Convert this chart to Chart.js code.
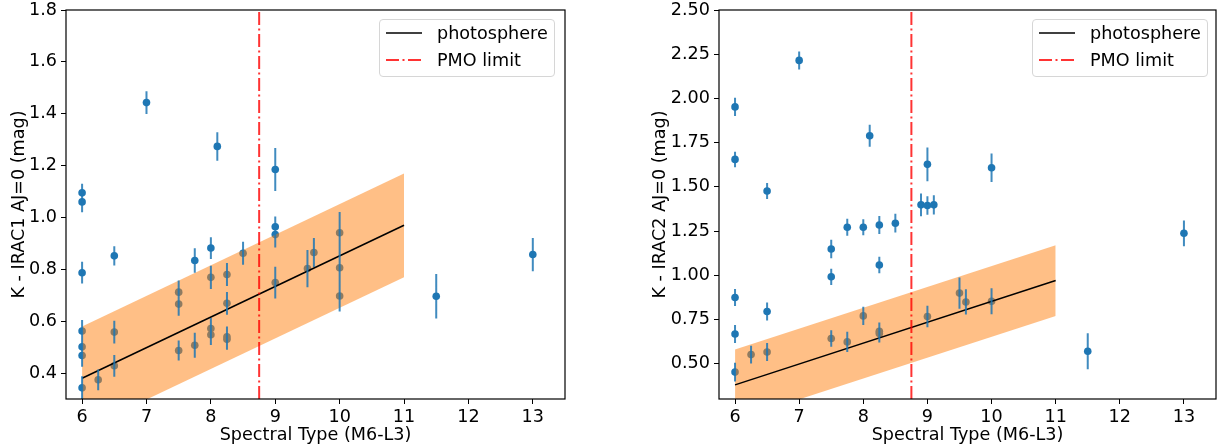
<!DOCTYPE html>
<html lang="en">
<head>
<meta charset="UTF-8">
<title>K - IRAC colour vs spectral type</title>
<script src="https://cdn.jsdelivr.net/npm/chart.js"></script>
<style>
    * { margin: 0; padding: 0; box-sizing: border-box; }
    body {
        width: 1220px;
        height: 448px;
        background: #fff;
        position: relative;
        overflow: hidden;
        font-family: 'DejaVu Sans', sans-serif;
    }
    .panel { position: absolute; top: 0; height: 448px; }
    #left-panel { left: 0; width: 575px; }
    #right-panel { left: 640px; width: 580px; }
    .legend {
        position: absolute;
        top: 19px;
        width: 176px;
        height: 58px;
        border: 1px solid #d6d6d6;
        border-radius: 4px;
        background: rgba(255, 255, 255, 0.8);
        font-size: 17.6px;
        color: #000;
    }
    .legend-row {
        position: absolute;
        left: 6px;
        height: 22px;
        display: flex;
        align-items: center;
        white-space: nowrap;
    }
    .legend-row svg { width: 36px; height: 6px; margin-right: 15px; }
</style>
</head>
<body>
    <div class="panel" id="left-panel"><canvas id="leftChart"></canvas></div>
    <div class="panel" id="right-panel"><canvas id="rightChart"></canvas></div>

    <div class="legend" style="left:379px">
        <div class="legend-row" style="top:2px">
            <svg viewBox="0 0 36 6"><line x1="0" y1="3" x2="36" y2="3" stroke="#000" stroke-width="1.5"/></svg>photosphere
        </div>
        <div class="legend-row" style="top:29px">
            <svg viewBox="0 0 36 6"><line x1="0" y1="3" x2="36" y2="3" stroke="rgba(255,0,0,0.8)" stroke-width="2" stroke-dasharray="13 3.5 2 3.5"/></svg>PMO limit
        </div>
    </div>
    <div class="legend" style="left:1032px">
        <div class="legend-row" style="top:2px">
            <svg viewBox="0 0 36 6"><line x1="0" y1="3" x2="36" y2="3" stroke="#000" stroke-width="1.5"/></svg>photosphere
        </div>
        <div class="legend-row" style="top:29px">
            <svg viewBox="0 0 36 6"><line x1="0" y1="3" x2="36" y2="3" stroke="rgba(255,0,0,0.8)" stroke-width="2" stroke-dasharray="13 3.5 2 3.5"/></svg>PMO limit
        </div>
    </div>

<script>
    // tick labels
    const xTicks = [6, 7, 8, 9, 10, 11, 12, 13];
    const leftYTicks = [0.4, 0.6, 0.8, 1.0, 1.2, 1.4, 1.6, 1.8];
    const rightYTicks = [0.5, 0.75, 1.0, 1.25, 1.5, 1.75, 2.0, 2.25, 2.5];

    // K - IRAC1 (left panel)
    const leftX = [6, 6, 6, 6, 6, 6, 6, 6.25, 6.5, 6.5, 6.5, 7, 7.5, 7.5, 7.5, 7.75, 7.75,
        8, 8, 8, 8, 8.1, 8.25, 8.25, 8.25, 8.25, 8.5, 9, 9, 9, 9, 9.5, 9.6, 10, 10, 10, 11.5, 13];
    const leftY = [1.095, 1.06, 0.787, 0.562, 0.501, 0.468, 0.343, 0.374, 0.852, 0.558, 0.428, 1.443,
        0.712, 0.666, 0.487, 0.834, 0.507, 0.882, 0.769, 0.572, 0.548, 1.274, 0.780, 0.669, 0.540, 0.530,
        0.862, 1.185, 0.964, 0.934, 0.749, 0.803, 0.865, 0.941, 0.806, 0.697, 0.696, 0.857];
    const leftErr = [0.035, 0.04, 0.042, 0.043, 0.04, 0.044, 0.045, 0.04, 0.037, 0.044, 0.042, 0.044,
        0.045, 0.045, 0.039, 0.047, 0.048, 0.042, 0.045, 0.04, 0.04, 0.055, 0.044, 0.044, 0.04, 0.04,
        0.044, 0.083, 0.04, 0.05, 0.061, 0.072, 0.056, 0.08, 0.055, 0.06, 0.086, 0.064];

    // K - IRAC2 (right panel)
    const rightX = [6, 6, 6, 6, 6, 6.25, 6.5, 6.5, 6.5, 7, 7.5, 7.5, 7.5, 7.75, 7.75, 8, 8, 8.1,
        8.25, 8.25, 8.25, 8.25, 8.5, 8.9, 9, 9, 9, 9.1, 9.5, 9.6, 10, 10, 11.5, 13];
    const rightY = [1.952, 1.655, 0.874, 0.668, 0.452, 0.551, 1.476, 0.795, 0.566, 2.215, 1.148, 0.991,
        0.642, 1.271, 0.623, 1.271, 0.770, 1.789, 1.284, 1.058, 0.683, 0.670, 1.294, 1.398, 1.627, 1.394,
        0.767, 1.398, 0.899, 0.849, 1.608, 0.853, 0.570, 1.237];
    const rightErr = [0.052, 0.044, 0.048, 0.051, 0.053, 0.05, 0.045, 0.051, 0.051, 0.051, 0.052, 0.046,
        0.047, 0.048, 0.057, 0.045, 0.052, 0.062, 0.051, 0.047, 0.05, 0.05, 0.053, 0.064, 0.095, 0.052,
        0.061, 0.055, 0.088, 0.071, 0.081, 0.074, 0.102, 0.073];

    // photosphere relation and its +/- band (same in both panels)
    const photoX = [6, 11];
    const photoY = [0.38, 0.97];
    const bandLow = [0.18, 0.77];
    const bandHigh = [0.58, 1.17];
    const pmoLimit = 8.75;

    const FONT = { family: "'DejaVu Sans', sans-serif", size: 17.6 };
    const BLUE = '#1f77b4';

    const framePlugin = {
        id: 'frame',
        afterDatasetsDraw(chart) {
            const { ctx, chartArea: a } = chart;
            ctx.save();
            ctx.strokeStyle = '#000';
            ctx.lineWidth = 1.2;
            ctx.strokeRect(a.left, a.top, a.right - a.left, a.bottom - a.top);
            ctx.restore();
        }
    };

    function points(xs, ys) {
        return xs.map((x, i) => ({ x: x, y: ys[i] }));
    }

    // error bars as one line dataset broken by gaps
    function errorSegments(xs, ys, errs) {
        const out = [];
        xs.forEach((x, i) => {
            out.push({ x: x, y: ys[i] - errs[i] });
            out.push({ x: x, y: ys[i] + errs[i] });
            out.push({ x: x, y: null });
        });
        return out;
    }

    function makePanel(id, cfg) {
        const ctx = document.getElementById(id).getContext('2d');
        return new Chart(ctx, {
            type: 'scatter',
            data: {
                datasets: [
                    {
                        data: points(cfg.xs, cfg.ys),
                        backgroundColor: BLUE,
                        borderWidth: 0,
                        pointRadius: 3.8,
                        order: 6
                    },
                    {
                        type: 'line',
                        data: points(photoX, bandHigh),
                        borderWidth: 0,
                        pointRadius: 0,
                        fill: '+1',
                        backgroundColor: 'rgba(255, 127, 14, 0.5)',
                        order: 5
                    },
                    {
                        type: 'line',
                        data: points(photoX, bandLow),
                        borderWidth: 0,
                        pointRadius: 0,
                        fill: false,
                        order: 5
                    },
                    {
                        type: 'line',
                        data: points(photoX, photoY),
                        borderColor: '#000',
                        borderWidth: 1.5,
                        pointRadius: 0,
                        fill: false,
                        order: 3
                    },
                    {
                        type: 'line',
                        data: errorSegments(cfg.xs, cfg.ys, cfg.errs),
                        borderColor: 'rgba(31, 119, 180, 0.85)',
                        borderWidth: 2,
                        pointRadius: 0,
                        spanGaps: false,
                        fill: false,
                        order: 2
                    },
                    {
                        type: 'line',
                        data: [{ x: pmoLimit, y: cfg.yMin }, { x: pmoLimit, y: cfg.yMax }],
                        borderColor: 'rgba(255, 0, 0, 0.8)',
                        borderWidth: 2,
                        borderDash: [13, 3.5, 2, 3.5],
                        pointRadius: 0,
                        fill: false,
                        order: 1
                    }
                ]
            },
            options: {
                responsive: true,
                maintainAspectRatio: false,
                animation: false,
                events: [],
                layout: { padding: { top: 10, right: cfg.padRight, left: 0, bottom: 0 } },
                plugins: { legend: { display: false }, tooltip: { enabled: false } },
                scales: {
                    x: {
                        type: 'linear',
                        min: 5.75,
                        max: 13.5,
                        afterBuildTicks: s => { s.ticks = xTicks.map(v => ({ value: v })); },
                        afterFit: s => { s.height = 49; s.paddingLeft = 0; s.paddingRight = 0; },
                        grid: { drawOnChartArea: false, tickLength: 5, color: '#000' },
                        border: { display: false },
                        ticks: { color: '#000', font: FONT, padding: 3, maxRotation: 0, callback: v => String(v) },
                        title: { display: true, text: 'Spectral Type (M6-L3)', color: '#000', font: FONT, padding: { top: 0, bottom: 2 } }
                    },
                    y: {
                        type: 'linear',
                        min: cfg.yMin,
                        max: cfg.yMax,
                        afterBuildTicks: s => { s.ticks = cfg.yTicks.map(v => ({ value: v })); },
                        afterFit: s => { s.width = cfg.axisWidth; s.paddingTop = 0; s.paddingBottom = 0; },
                        grid: { drawOnChartArea: false, tickLength: 5, color: '#000' },
                        border: { display: false },
                        ticks: { color: '#000', font: FONT, padding: 4, callback: v => v.toFixed(cfg.decimals) },
                        title: { display: true, text: cfg.yTitle, color: '#000', font: FONT, padding: { top: cfg.titlePad, bottom: 0 } }
                    }
                }
            },
            plugins: [framePlugin]
        });
    }

    makePanel('leftChart', {
        xs: leftX, ys: leftY, errs: leftErr,
        yMin: 0.3, yMax: 1.8, yTicks: leftYTicks, decimals: 1,
        yTitle: 'K - IRAC1 AJ=0 (mag)',
        axisWidth: 66, titlePad: 9, padRight: 10
    });

    makePanel('rightChart', {
        xs: rightX, ys: rightY, errs: rightErr,
        yMin: 0.3, yMax: 2.5, yTicks: rightYTicks, decimals: 2,
        yTitle: 'K - IRAC2 AJ=0 (mag)',
        axisWidth: 79, titlePad: 10, padRight: 3
    });
</script>
</body>
</html>
